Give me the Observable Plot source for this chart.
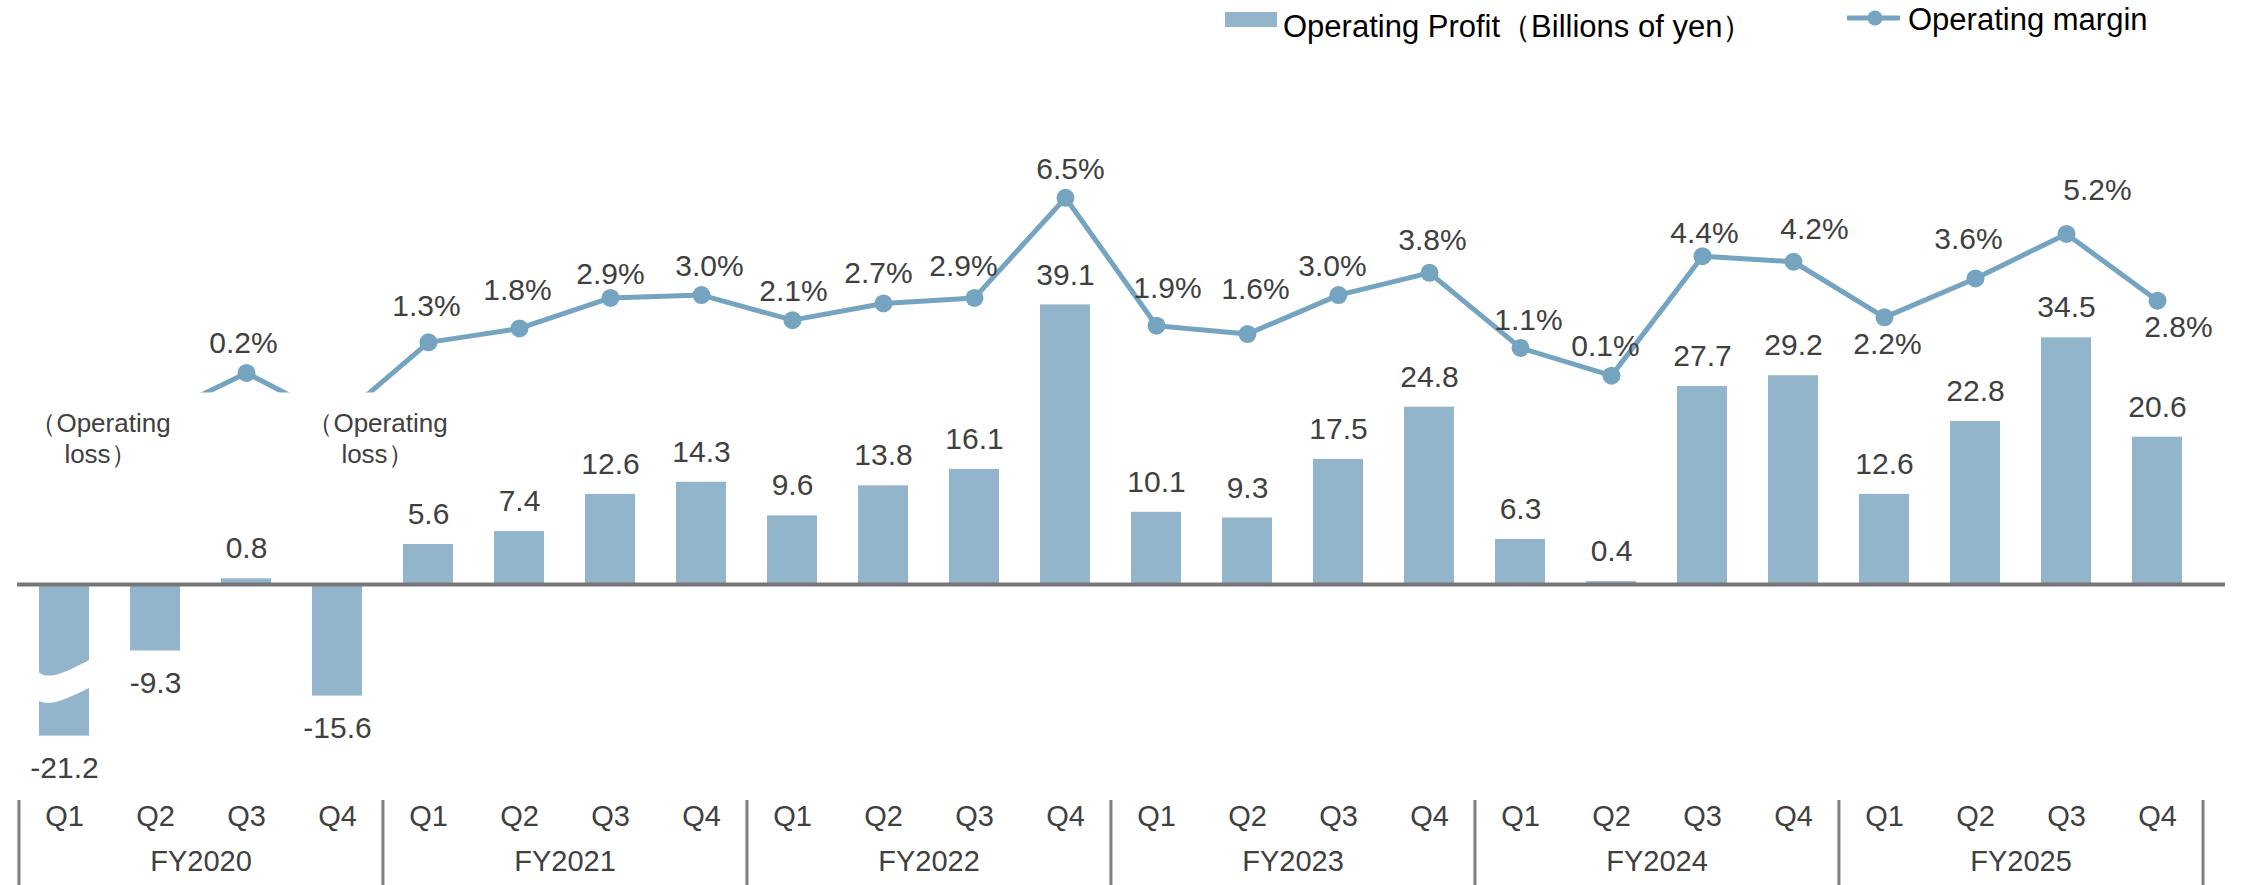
<!DOCTYPE html>
<html><head><meta charset="utf-8">
<script src="https://cdn.jsdelivr.net/npm/d3@7"></script>
<script src="https://cdn.jsdelivr.net/npm/@observablehq/plot@0.6"></script>
<style>
body{margin:0;background:#fff;font-family:"Liberation Sans",Arial,sans-serif;}
#legend{display:block}
#chart svg{display:block}
</style></head><body>
<svg id="legend" width="2244" height="45" font-family="Liberation Sans, Arial, sans-serif">
  <rect x="1225" y="12" width="52" height="15" fill="#93B5CB"></rect>
  <text x="1283" y="37" font-size="31" fill="#000">Operating Profit（Billions of yen）</text>
  <line x1="1847" x2="1900" y1="18" y2="18" stroke="#75A4C1" stroke-width="5"></line>
  <circle cx="1875" cy="18" r="7.5" fill="#75A4C1"></circle>
  <text x="1908" y="30" font-size="31" fill="#000">Operating margin</text>
</svg>
<div id="chart"></div>
<script>
// ---- data ----
const years = ["FY2020", "FY2021", "FY2022", "FY2023", "FY2024", "FY2025"];
const quarters = ["Q1", "Q2", "Q3", "Q4"];
const operatingProfit = [-21.2, -9.3, 0.8, -15.6, 5.6, 7.4, 12.6, 14.3, 9.6, 13.8, 16.1, 39.1,
                         10.1, 9.3, 17.5, 24.8, 6.3, 0.4, 27.7, 29.2, 12.6, 22.8, 34.5, 20.6];
// operating margin (%); FY2020 Q1, Q2, Q4 are hidden in the original (estimated)
const operatingMargin = [-4.0, -1.4, 0.2, -1.5, 1.3, 1.8, 2.9, 3.0, 2.1, 2.7, 2.9, 6.5,
                         1.9, 1.6, 3.0, 3.8, 1.1, 0.1, 4.4, 4.2, 2.2, 3.6, 5.2, 2.8];
const hiddenMargin = ["FY2020 Q1", "FY2020 Q2", "FY2020 Q4"];
const lossLabelCats = ["FY2020 Q1", "FY2020 Q4"];
const lossLabelText = "（Operating\nloss）";

// ---- layout / style ----
const categories = years.flatMap(y => quarters.map(q => `${y} ${q}`));
const BAR = "#93B5CB", LINE = "#75A4C1", TXT = "#404040";
const X0 = 17.5, X1 = 2203.5, STEP = (X1 - X0) / categories.length;
const marginToY = m => 28.81 + 3.888 * m;   // secondary axis mapping (% -> profit units)
const CUT = -0.5;                            // margin below which the line is hidden
const LOSS_Y = 20.6;
const labelOffsets = {
  2: [-3, -30], 4: [-2, -36], 5: [-2, -38], 6: [0, -24], 7: [8, -29], 8: [1, -29], 9: [-5, -30],
  10: [-11, -32], 11: [5, -28], 12: [11, -37], 13: [8, -45], 14: [-6, -29], 15: [3, -32],
  16: [8, -28], 17: [-6, -29], 18: [2, -23], 19: [21, -32], 20: [3, 27], 21: [-7, -39],
  22: [31, -44], 23: [21, 27]
};
const lossDx = [36, 40];

const rows = categories.map((cat, i) => ({
  i, cat, year: cat.split(" ")[0], q: cat.split(" ")[1],
  profit: operatingProfit[i], margin: operatingMargin[i],
  my: marginToY(operatingMargin[i]), shown: !hiddenMargin.includes(cat)
}));

const marginLabelMarks = rows.filter(d => d.shown).map(d =>
  Plot.text([d], {x: "cat", y: "my", text: d => d.margin.toFixed(1) + "%",
    dx: labelOffsets[d.i][0], dy: labelOffsets[d.i][1], fontSize: 30, fill: TXT}));

const lossMarks = lossLabelCats.map((c, k) =>
  Plot.text([c], {x: d => d, y: () => LOSS_Y, text: () => lossLabelText, dx: lossDx[k],
    fontSize: 26, lineHeight: 1.19, fill: TXT}));

const chart = Plot.plot({
  width: 2244, height: 840,
  marginTop: 0, marginBottom: 0, marginLeft: 17, marginRight: 19,
  style: {fontFamily: '"Liberation Sans", Arial, sans-serif', background: "#fff", overflow: "visible"},
  x: {type: "band", domain: categories, range: [X0, X1], paddingInner: 0.45, paddingOuter: 0.225, axis: null},
  y: {domain: [-28, 72], range: [739.2, 24.2], axis: null},
  marks: [
    Plot.barY(rows, {x: "cat", y: "profit", fill: BAR}),
    Plot.ruleY([0], {stroke: "#767676", strokeWidth: 4}),
    Plot.line(rows, {x: "cat", y: "my", stroke: LINE, strokeWidth: 5}),
    Plot.dot(rows.filter(d => d.shown), {x: "cat", y: "my", r: 9, fill: LINE}),
    Plot.text(rows.filter(d => d.profit >= 0), {x: "cat", y: "profit", text: d => d.profit.toFixed(1), dy: -30, fontSize: 30, fill: TXT}),
    Plot.text(rows.filter(d => d.profit < 0), {x: "cat", y: "profit", text: d => d.profit.toFixed(1), dy: 32, fontSize: 30, fill: TXT}),
    ...marginLabelMarks,
    ...lossMarks,
    // category axis
    Plot.text(rows, {x: "cat", text: "q", frameAnchor: "bottom", dy: -60, fontSize: 29, fill: TXT}),
    Plot.text(rows.filter(d => d.q === "Q2"), {x: "cat", text: "year", frameAnchor: "bottom", dy: -15, dx: STEP / 2, fontSize: 29, fill: TXT}),
    Plot.ruleX(rows.filter(d => d.q === "Q1"), {x: "cat", dx: -STEP / 2, insetTop: 755, stroke: "#7f7f7f", strokeWidth: 3}),
    Plot.ruleX(rows.slice(-1), {x: "cat", dx: STEP / 2, insetTop: 755, stroke: "#7f7f7f", strokeWidth: 3})
  ]
});
document.getElementById("chart").appendChild(chart);

// hide the negative part of the margin line (as in the original)
const ns = "http://www.w3.org/2000/svg";
const ys = chart.scale("y"), xs = chart.scale("x");
const cutPx = ys.apply(marginToY(CUT));
const defs = document.createElementNS(ns, "defs");
const cp = document.createElementNS(ns, "clipPath");
cp.setAttribute("id", "lineclip");
const cr = document.createElementNS(ns, "rect");
cr.setAttribute("x", 0); cr.setAttribute("y", -200);
cr.setAttribute("width", 2244); cr.setAttribute("height", cutPx + 200);
cp.appendChild(cr); defs.appendChild(cp); chart.insertBefore(defs, chart.firstChild);
const lineG = chart.querySelector('g[aria-label="line"]');
if (lineG) lineG.setAttribute("clip-path", "url(#lineclip)");

// axis break symbol on the FY2020 Q1 bar
const cx = xs.apply("FY2020 Q1") + xs.bandwidth / 2;
const y0 = ys.apply(-13);
const br = document.createElementNS(ns, "path");
br.setAttribute("d", `M${cx-27},${y0-6} C${cx-17},${y0+3} ${cx-5},${y0-1} ${cx+27},${y0-18} L${cx+27},${y0+10} C${cx-5},${y0+26} ${cx-15},${y0+29} ${cx-27},${y0+23} Z`);
br.setAttribute("fill", "#fff");
const barG = chart.querySelector('g[aria-label="bar"]');
barG.parentNode.insertBefore(br, barG.nextSibling);
</script>
</body></html>
